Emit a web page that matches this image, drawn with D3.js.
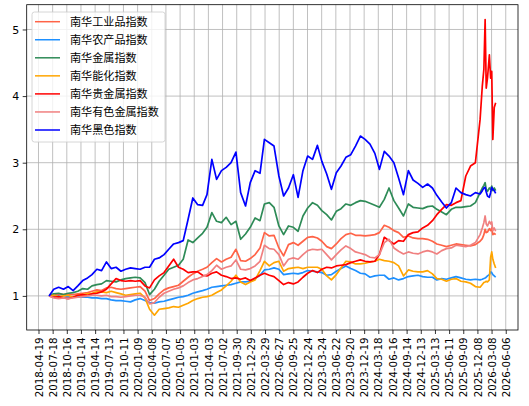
<!DOCTYPE html>
<html>
<head>
<meta charset="utf-8">
<script src="https://cdn.jsdelivr.net/npm/d3@7"></script>
<style>
  html, body { margin: 0; padding: 0; background: #fff; }
  svg { display: block; }
</style>
</head>
<body>
<svg id="chart" width="529" height="406"></svg>
<script>
'use strict';

// Sample dates: the 25th of every month up to 2025-12, then the denser
// points of early 2026 where the precious metals index spikes.
var monthlyDates = d3.timeMonth
  .range(new Date(2018, 5, 1), new Date(2026, 0, 1))
  .map(function(d) { return new Date(d.getFullYear(), d.getMonth(), 25); });

var extraDates = ['2026-01-08', '2026-01-18', '2026-01-26', '2026-02-02',
  '2026-02-10', '2026-02-22', '2026-03-02', '2026-03-09', '2026-03-16',
  '2026-03-25', '2026-04-03'];

var tickDates = ['2018-04-19', '2018-07-18', '2018-10-16', '2019-01-14',
  '2019-04-14', '2019-07-13', '2019-10-11', '2020-01-09', '2020-04-08',
  '2020-07-07', '2020-10-05', '2021-01-03', '2021-04-03', '2021-07-02',
  '2021-09-30', '2021-12-29', '2022-03-29', '2022-06-27', '2022-09-25',
  '2022-12-24', '2023-03-24', '2023-06-22', '2023-09-20', '2023-12-19',
  '2024-03-18', '2024-06-16', '2024-09-14', '2024-12-13', '2025-03-13',
  '2025-06-11', '2025-09-09', '2025-12-08', '2026-03-08', '2026-06-06'];

var yTicks = [1, 2, 3, 4, 5];

var seriesNames = ['南华工业品指数', '南华农产品指数', '南华金属指数',
  '南华能化指数', '南华贵金属指数', '南华有色金属指数', '南华黑色指数'];

var seriesColors = ['tomato', '#1e90ff', 'seagreen', 'orange', 'red',
  'lightcoral', 'blue'];

var industrial = [
  1.00, 1.01, 1.03, 1.02, 1.03, 1.02, 1.03, 1.04, 1.05, 1.07,
  1.09, 1.08, 1.12, 1.13, 1.11, 1.10, 1.11, 1.12, 1.13, 1.14,
  1.07, 0.93, 0.96, 1.03, 1.09, 1.12, 1.14, 1.16, 1.22, 1.28,
  1.33, 1.37, 1.40, 1.43, 1.50, 1.56, 1.51, 1.55, 1.58, 1.70,
  1.53, 1.52, 1.56, 1.62, 1.72, 1.95, 1.90, 1.91, 1.72, 1.60,
  1.77, 1.80, 1.76, 1.82, 1.88, 1.89, 1.87, 1.82, 1.74, 1.71,
  1.78, 1.86, 1.92, 1.94, 1.91, 1.91, 1.90, 1.91, 1.92, 1.95,
  2.06, 2.03, 1.98, 1.95, 1.88, 1.90, 1.87, 1.86, 1.86, 1.85,
  1.82, 1.78, 1.76, 1.74, 1.76, 1.78, 1.77, 1.76, 1.75, 1.77,
  1.82,
  1.86, 1.92, 2.00, 1.95, 1.96, 2.01, 1.98, 2.02, 1.92, 1.94, 1.92];

var agriculture = [
  1.00, 0.99, 1.00, 0.98, 0.99, 0.98, 0.99, 0.98, 0.98, 0.97,
  0.97, 0.96, 0.96, 0.94, 0.93, 0.93, 0.92, 0.91, 0.94, 0.96,
  0.93, 0.90, 0.89, 0.91, 0.92, 0.94, 0.96, 0.98, 0.99, 1.01,
  1.04, 1.06, 1.08, 1.10, 1.13, 1.14, 1.15, 1.16, 1.17, 1.19,
  1.21, 1.21, 1.22, 1.26, 1.31, 1.39, 1.40, 1.42, 1.40, 1.32,
  1.33, 1.34, 1.33, 1.35, 1.38, 1.37, 1.36, 1.35, 1.31, 1.32,
  1.37, 1.41, 1.45, 1.41, 1.38, 1.34, 1.33, 1.28, 1.30, 1.31,
  1.31, 1.25, 1.27, 1.24, 1.26, 1.29, 1.30, 1.31, 1.29, 1.28,
  1.28, 1.24, 1.26, 1.25, 1.27, 1.29, 1.27, 1.25, 1.24, 1.25,
  1.24,
  1.25, 1.26, 1.27, 1.28, 1.30, 1.32, 1.36, 1.35, 1.32, 1.30, 1.28];

var metals = [
  1.00, 1.03, 1.04, 1.02, 1.04, 1.05, 1.07, 1.11, 1.10, 1.15,
  1.17, 1.18, 1.23, 1.22, 1.21, 1.24, 1.26, 1.27, 1.28, 1.27,
  1.20, 1.02, 1.10, 1.22, 1.31, 1.40, 1.43, 1.46, 1.55, 1.84,
  1.80, 1.87, 1.94, 2.03, 2.25, 2.12, 2.10, 2.18, 2.07, 2.12,
  1.85, 1.93, 2.03, 2.17, 2.13, 2.38, 2.40, 2.33, 2.05, 1.92,
  2.05, 2.03, 1.97, 2.20, 2.32, 2.40, 2.36, 2.28, 2.22, 2.14,
  2.27, 2.31, 2.38, 2.36, 2.40, 2.43, 2.42, 2.39, 2.36, 2.33,
  2.45, 2.62, 2.43, 2.32, 2.20, 2.38, 2.33, 2.32, 2.31, 2.34,
  2.35, 2.30, 2.26, 2.22, 2.30, 2.33, 2.33, 2.34, 2.35, 2.40,
  2.55,
  2.62, 2.66, 2.70, 2.60, 2.57, 2.62, 2.60, 2.65, 2.58, 2.62, 2.58];

var energy = [
  1.00, 1.01, 0.99, 1.00, 1.01, 0.98, 1.01, 1.02, 1.03, 1.04,
  1.06, 1.06, 1.05, 1.07, 1.05, 1.03, 1.01, 1.02, 1.03, 1.04,
  0.97, 0.80, 0.71, 0.80, 0.81, 0.82, 0.84, 0.83, 0.86, 0.89,
  0.93, 0.96, 0.98, 0.99, 1.01, 1.05, 1.09, 1.15, 1.22, 1.31,
  1.21, 1.17, 1.21, 1.24, 1.38, 1.52, 1.45, 1.50, 1.52, 1.37,
  1.41, 1.42, 1.43, 1.41, 1.43, 1.43, 1.43, 1.40, 1.30, 1.24,
  1.32, 1.42, 1.52, 1.51, 1.48, 1.48, 1.49, 1.51, 1.52, 1.55,
  1.53, 1.52, 1.50, 1.45, 1.30, 1.39, 1.37, 1.36, 1.36, 1.38,
  1.33, 1.26, 1.25, 1.22, 1.25, 1.26, 1.22, 1.21, 1.19, 1.14,
  1.13,
  1.17, 1.20, 1.21, 1.22, 1.21, 1.24, 1.58, 1.66, 1.55, 1.48, 1.42];

var precious = [
  1.00, 0.98, 0.99, 0.97, 0.96, 0.98, 1.01, 1.02, 1.01, 1.03,
  1.04, 1.06, 1.10, 1.18, 1.26, 1.23, 1.22, 1.23, 1.22, 1.23,
  1.15, 1.12, 1.24, 1.30, 1.35, 1.45, 1.55, 1.43, 1.40, 1.35,
  1.36, 1.36, 1.31, 1.30, 1.34, 1.36, 1.31, 1.29, 1.26, 1.27,
  1.25, 1.27, 1.23, 1.27, 1.31, 1.34, 1.31, 1.29, 1.23, 1.17,
  1.20, 1.18, 1.21, 1.28, 1.34, 1.38, 1.35, 1.40, 1.43, 1.42,
  1.45, 1.46, 1.47, 1.50, 1.52, 1.54, 1.52, 1.51, 1.52, 1.62,
  1.88, 1.83, 1.78, 1.83, 1.82, 1.92, 1.95, 1.96, 2.02, 2.06,
  2.13, 2.22, 2.30, 2.37, 2.36, 2.40, 2.43, 2.80, 2.95, 3.00,
  3.65,
  4.15, 4.40, 5.15, 4.12, 4.27, 4.62, 4.27, 4.37, 3.35, 3.83, 3.90];

var nonferrous = [
  1.00, 0.97, 0.96, 0.97, 0.96, 0.97, 0.98, 0.99, 1.00, 1.01,
  1.01, 1.00, 1.01, 0.99, 0.99, 0.98, 0.99, 1.00, 1.01, 1.01,
  0.98, 0.88, 0.90, 0.98, 1.04, 1.07, 1.10, 1.12, 1.15, 1.20,
  1.24, 1.26, 1.29, 1.32, 1.38, 1.46, 1.40, 1.43, 1.45, 1.54,
  1.40, 1.39, 1.41, 1.45, 1.52, 1.76, 1.71, 1.70, 1.62, 1.45,
  1.55, 1.57, 1.55, 1.62, 1.68, 1.70, 1.69, 1.70, 1.62, 1.54,
  1.62, 1.69, 1.75, 1.71, 1.66, 1.64, 1.62, 1.58, 1.57, 1.62,
  1.80, 1.85, 1.72, 1.67, 1.63, 1.66, 1.64, 1.63, 1.66, 1.68,
  1.66, 1.63, 1.68, 1.71, 1.72, 1.76, 1.75, 1.74, 1.76, 1.80,
  1.92,
  2.02, 2.10, 2.20, 2.08, 2.05, 2.12, 2.08, 2.11, 1.98, 2.02, 1.97];

var ferrous = [
  1.00, 1.10, 1.13, 1.10, 1.14, 1.08, 1.15, 1.23, 1.27, 1.32,
  1.40, 1.38, 1.51, 1.41, 1.43, 1.37, 1.40, 1.42, 1.41, 1.40,
  1.43, 1.43, 1.55, 1.57, 1.62, 1.70, 1.78, 1.80, 1.83, 2.15,
  2.47, 2.37, 2.36, 2.52, 3.05, 2.75, 2.88, 2.93, 3.00, 3.16,
  2.55, 2.35, 2.70, 2.88, 2.84, 3.35, 3.30, 3.25, 2.80, 2.50,
  2.62, 2.82, 2.48, 2.88, 3.10, 3.05, 3.26, 3.02, 2.83, 2.60,
  2.85, 2.95, 3.08, 3.12, 3.25, 3.40, 3.35, 3.28, 3.14, 2.90,
  3.17, 3.10, 3.00, 2.77, 2.52, 2.88, 2.74, 2.69, 2.63, 2.68,
  2.62, 2.51, 2.41, 2.32, 2.40, 2.62, 2.55, 2.52, 2.50, 2.55,
  2.53,
  2.58, 2.62, 2.63, 2.56, 2.50, 2.48, 2.55, 2.63, 2.60, 2.58, 2.54];


var parseDate = d3.timeParse('%Y-%m-%d');
var dates = monthlyDates.concat(extraDates.map(parseDate));
var allSeries = [industrial, agriculture, metals, energy, precious,
  nonferrous, ferrous];

var plot = { left: 26.7, right: 518, top: 4.7, bottom: 330 };

/**
 * Pads an extent by 5% on each side, like matplotlib's default margins.
 */
function padded(extent) {
  var span = extent[1] - extent[0];
  return [extent[0] - span * 0.05, extent[1] + span * 0.05];
}

var xDom = padded(d3.extent(dates, function(d) { return +d; }));
var x = d3.scaleTime()
  .domain([new Date(xDom[0]), new Date(xDom[1])])
  .range([plot.left, plot.right]);

var allValues = d3.merge(allSeries);
var y = d3.scaleLinear()
  .domain(padded(d3.extent(allValues)))
  .range([plot.bottom, plot.top]);

var svg = d3.select('#chart');

// grid
var grid = svg.append('g').attr('class', 'grid');
grid.selectAll('line.gx')
  .data(tickDates.map(parseDate))
  .enter().append('line')
  .attr('class', 'gx')
  .attr('x1', function(d) { return x(d); })
  .attr('x2', function(d) { return x(d); })
  .attr('y1', plot.top)
  .attr('y2', plot.bottom)
  .attr('stroke', '#b0b0b0')
  .attr('stroke-width', 0.8);
grid.selectAll('line.gy')
  .data(yTicks)
  .enter().append('line')
  .attr('class', 'gy')
  .attr('x1', plot.left)
  .attr('x2', plot.right)
  .attr('y1', function(d) { return y(d); })
  .attr('y2', function(d) { return y(d); })
  .attr('stroke', '#b0b0b0')
  .attr('stroke-width', 0.8);

// series lines, in legend order so the ferrous index ends up on top
svg.append('clipPath').attr('id', 'plot-clip')
  .append('rect')
  .attr('x', plot.left)
  .attr('y', plot.top)
  .attr('width', plot.right - plot.left)
  .attr('height', plot.bottom - plot.top);

var line = d3.line()
  .x(function(d, i) { return x(dates[i]); })
  .y(function(d) { return y(d); });

svg.append('g')
  .attr('clip-path', 'url(#plot-clip)')
  .selectAll('path')
  .data(allSeries)
  .enter().append('path')
  .attr('d', line)
  .attr('fill', 'none')
  .attr('stroke', function(d, i) { return seriesColors[i]; })
  .attr('stroke-width', 1.7)
  .attr('stroke-linejoin', 'round');

// axes
var xAxis = d3.axisBottom(x)
  .tickValues(tickDates.map(parseDate))
  .tickFormat(d3.timeFormat('%Y-%m-%d'))
  .tickSize(4)
  .tickPadding(3);

var gx = svg.append('g')
  .attr('transform', 'translate(0,' + plot.bottom + ')')
  .call(xAxis);
gx.select('.domain').remove();
gx.selectAll('.tick line').attr('stroke', '#000').attr('stroke-width', 0.8);
gx.selectAll('.tick text')
  .attr('fill', '#000')
  .style('font-family', '"DejaVu Sans", sans-serif')
  .style('font-size', '10.3px')
  .attr('text-anchor', 'end')
  .attr('transform', 'rotate(-90)')
  .attr('x', -7.5)
  .attr('y', 0)
  .attr('dy', '0.35em');

var yAxis = d3.axisLeft(y)
  .tickValues(yTicks)
  .tickFormat(d3.format('d'))
  .tickSize(4)
  .tickPadding(3.5);

var gy = svg.append('g')
  .attr('transform', 'translate(' + plot.left + ',0)')
  .call(yAxis);
gy.select('.domain').remove();
gy.selectAll('.tick line').attr('stroke', '#000').attr('stroke-width', 0.8);
gy.selectAll('.tick text')
  .attr('fill', '#000')
  .style('font-family', '"DejaVu Sans", sans-serif')
  .style('font-size', '11px');

// frame
svg.append('rect')
  .attr('x', plot.left)
  .attr('y', plot.top)
  .attr('width', plot.right - plot.left)
  .attr('height', plot.bottom - plot.top)
  .attr('fill', 'none')
  .attr('stroke', '#000')
  .attr('stroke-width', 0.8);

// legend
var legend = svg.append('g').attr('class', 'legend');
legend.append('rect')
  .attr('x', 32)
  .attr('y', 12)
  .attr('width', 133)
  .attr('height', 130)
  .attr('rx', 2.5)
  .attr('fill', '#fff')
  .attr('fill-opacity', 0.8)
  .attr('stroke', '#cccccc')
  .attr('stroke-width', 0.8);

var rows = legend.selectAll('g.row')
  .data(seriesNames)
  .enter().append('g')
  .attr('class', 'row')
  .attr('transform', function(d, i) {
    return 'translate(0,' + (21.7 + i * 18.05) + ')';
  });
rows.append('line')
  .attr('x1', 35)
  .attr('x2', 60)
  .attr('stroke', function(d, i) { return seriesColors[i]; })
  .attr('stroke-width', 1.5);
rows.append('text')
  .attr('x', 70)
  .attr('dy', '0.36em')
  .style('font-family', '"Noto Sans CJK SC", sans-serif')
  .style('font-size', '11.1px')
  .attr('fill', '#000')
  .text(function(d) { return d; });
</script>
</body>
</html>
